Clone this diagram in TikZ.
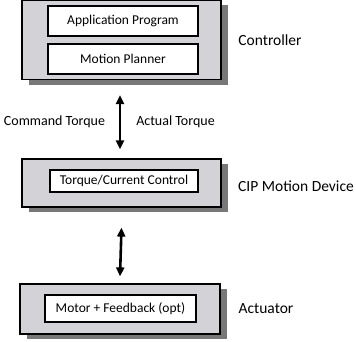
\documentclass[tikz,border=0pt]{standalone}
\usepackage{fontspec}
\setmainfont{Carlito}
\usepackage{tikz}
\usetikzlibrary{arrows.meta,positioning,shadows}
\definecolor{panelgray}{HTML}{D3D3D7}
\definecolor{shadegray}{HTML}{787878}

\begin{document}
\begin{tikzpicture}[
  x=1pt, y=1pt,
  font=\fontsize{13.5}{15}\selectfont,
  panel/.style={draw, line width=1.2pt, fill=panelgray, minimum width=199pt,
    drop shadow={shadow xshift=7pt, shadow yshift=-5pt, fill=shadegray, opacity=1}},
  inbox/.style={draw, line width=1.2pt, fill=white, minimum width=150pt, align=center},
  tag/.style={font=\fontsize{15.5}{17}\selectfont},
  flow/.style={font=\fontsize{14}{16}\selectfont},
  arrow/.style={{Triangle[length=9pt,width=8pt]}-{Triangle[length=9pt,width=8pt]}, line width=2.6pt}
]
\useasboundingbox (0,0) rectangle (356,341);

\node[panel, minimum height=79pt] (ctrl) at (121.5,301) {};
\node[inbox, minimum height=30pt] (app) at (123,320) {Application Program};
\node[inbox, minimum height=30pt] (planner) at (123,282) {Motion Planner};
\node[tag] (ctrllbl) at (270,301) {Controller};

\node[panel, minimum height=48pt] (cip) at (121.5,158) {};
\node[inbox, minimum width=148pt, minimum height=22pt] (torque) at (124,160) {Torque/Current Control};
\node[tag] (ciplbl) at (296,155) {CIP Motion Device};

\node[panel, minimum width=200pt, minimum height=50pt] (act) at (120,32) {};
\node[inbox, minimum width=151pt, minimum height=27pt] (motor) at (120.5,32.5) {Motor + Feedback (opt)};
\node[tag] (actlbl) at (266,32) {Actuator};

\node[flow] (cmd) at (54.5,219) {Command Torque};
\node[flow] (actual) at (175.5,219) {Actual Torque};

\draw[arrow] ([xshift=-1.5pt,yshift=-15pt]ctrl.south) -- ([xshift=-1.5pt,yshift=9pt]cip.north);
\draw[arrow] ([yshift=-20pt]cip.south) -- ([yshift=7pt]act.north);
\end{tikzpicture}
\end{document}
